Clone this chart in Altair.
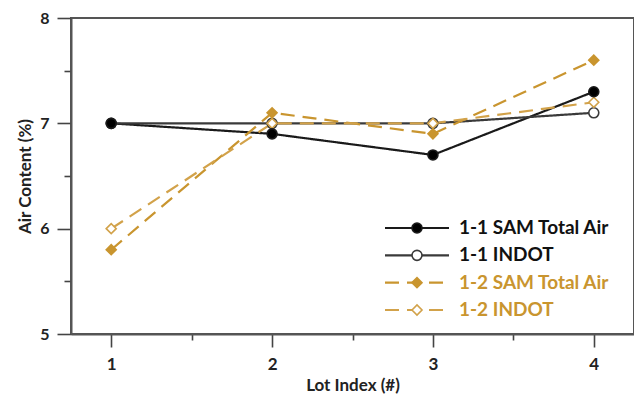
import altair as alt
import pandas as pd

lots = [1, 2, 3, 4]
series_names = ["1-1 SAM Total Air", "1-1 INDOT", "1-2 SAM Total Air", "1-2 INDOT"]
sam_11 = [7.0, 6.9, 6.7, 7.3]
indot_11 = [7.0, 7.0, 7.0, 7.1]
sam_12 = [5.8, 7.1, 6.9, 7.6]
indot_12 = [6.0, 7.0, 7.0, 7.2]

colors = ["#1a1a1a", "#3a3a3a", "#C9952F", "#D2A24A"]
dashes = [[1, 0], [1, 0], [14, 8], [14, 8]]
shapes = ["circle", "circle", "diamond", "diamond"]
fills = ["#000000", "#ffffff", "#C9952F", "#ffffff"]
label_colors = ["#111111", "#111111", "#C9952F", "#C9952F"]
draw_order = [2, 0, 3, 1]

rows = []
for i, (name, vals) in enumerate(zip(series_names, [sam_11, indot_11, sam_12, indot_12])):
    for lot, v in zip(lots, vals):
        rows.append({"series": name, "lot": lot, "value": v, "order": draw_order[i]})
df = pd.DataFrame(rows)

leg = pd.DataFrame({"series": series_names, "row": [0, 1, 2, 3], "lcolor": label_colors})

FONT = "Lato"
color_scale = alt.Scale(domain=series_names, range=colors)
dash_scale = alt.Scale(domain=series_names, range=dashes)
shape_scale = alt.Scale(domain=series_names, range=shapes)
fill_scale = alt.Scale(domain=series_names, range=fills)

x_enc = alt.X("lot:Q", scale=alt.Scale(domain=[0.75, 4.25], nice=False, zero=False),
              axis=alt.Axis(values=[1, 1.5, 2, 2.5, 3, 3.5, 4], title="Lot Index (#)",
                            format=".0f", labelFontSize=17,
                            labelExpr="datum.value % 1 === 0 ? datum.label : ''",
                            tickSize={"expr": "datum.value % 1 === 0 ? 13 : 6"},
                            grid=False, labelPadding=9, titlePadding=5))
y_enc = alt.Y("value:Q", scale=alt.Scale(domain=[5, 8], nice=False, zero=False),
              axis=alt.Axis(values=[5, 5.5, 6, 6.5, 7, 7.5, 8], title="Air Content (%)",
                            format=".0f", labelFontSize=16,
                            labelExpr="datum.value % 1 === 0 ? datum.label : ''",
                            tickSize={"expr": "datum.value % 1 === 0 ? 14 : 7"},
                            grid=False, labelPadding=8, titlePadding=5))

base = alt.Chart(df)
lines = base.mark_line(strokeWidth=2.2).encode(
    x=x_enc, y=y_enc,
    color=alt.Color("series:N", scale=color_scale, legend=None),
    strokeDash=alt.StrokeDash("series:N", scale=dash_scale, legend=None),
    detail="series:N",
)
points = base.mark_point(filled=False, size=100, strokeWidth=1.6, opacity=1).encode(
    x="lot:Q", y="value:Q",
    shape=alt.Shape("series:N", scale=shape_scale, legend=None),
    fill=alt.Fill("series:N", scale=fill_scale, legend=None),
    stroke=alt.Stroke("series:N", scale=color_scale, legend=None),
    order="order:Q",
)
main = alt.layer(lines, points)

ly = alt.Y("row:Q", scale=alt.Scale(domain=[0, 3], range=[210, 292]), axis=None)
lbase = alt.Chart(leg)
leg_lines = lbase.mark_rule(strokeWidth=2.2).encode(
    x=alt.value(314), x2=alt.value(378), y=ly,
    color=alt.Color("series:N", scale=color_scale, legend=None),
    strokeDash=alt.StrokeDash("series:N", scale=dash_scale, legend=None),
)
leg_pts = lbase.mark_point(filled=False, size=100, strokeWidth=1.6, opacity=1).encode(
    x=alt.value(346), y=ly,
    shape=alt.Shape("series:N", scale=shape_scale, legend=None),
    fill=alt.Fill("series:N", scale=fill_scale, legend=None),
    stroke=alt.Stroke("series:N", scale=color_scale, legend=None),
)
leg_txt = lbase.mark_text(align="left", baseline="middle", font=FONT, fontSize=19,
                          fontWeight="bold").encode(
    x=alt.value(388), y=ly, text="series:N",
    color=alt.Color("lcolor:N", scale=None),
)
legend = alt.layer(leg_lines, leg_pts, leg_txt)

chart = alt.layer(main, legend).resolve_scale(
    y="independent"
).properties(
    width=563, height=316,
    autosize=alt.AutoSizeParams(type="none"),
    padding={"left": 63, "top": 10, "right": 0, "bottom": 65},
).configure_view(
    stroke="#555555", strokeWidth=2
).configure_axis(
    domainColor="#555555", domainWidth=2, tickColor="#444444", tickWidth=1.6,
    labelFont=FONT, labelFontWeight="bold", labelColor="#222222",
    titleFont=FONT, titleFontSize=17, titleFontWeight="bold", titleColor="#222222",
)

chart.save("out.html", embed_options={"renderer": "svg", "actions": False})
